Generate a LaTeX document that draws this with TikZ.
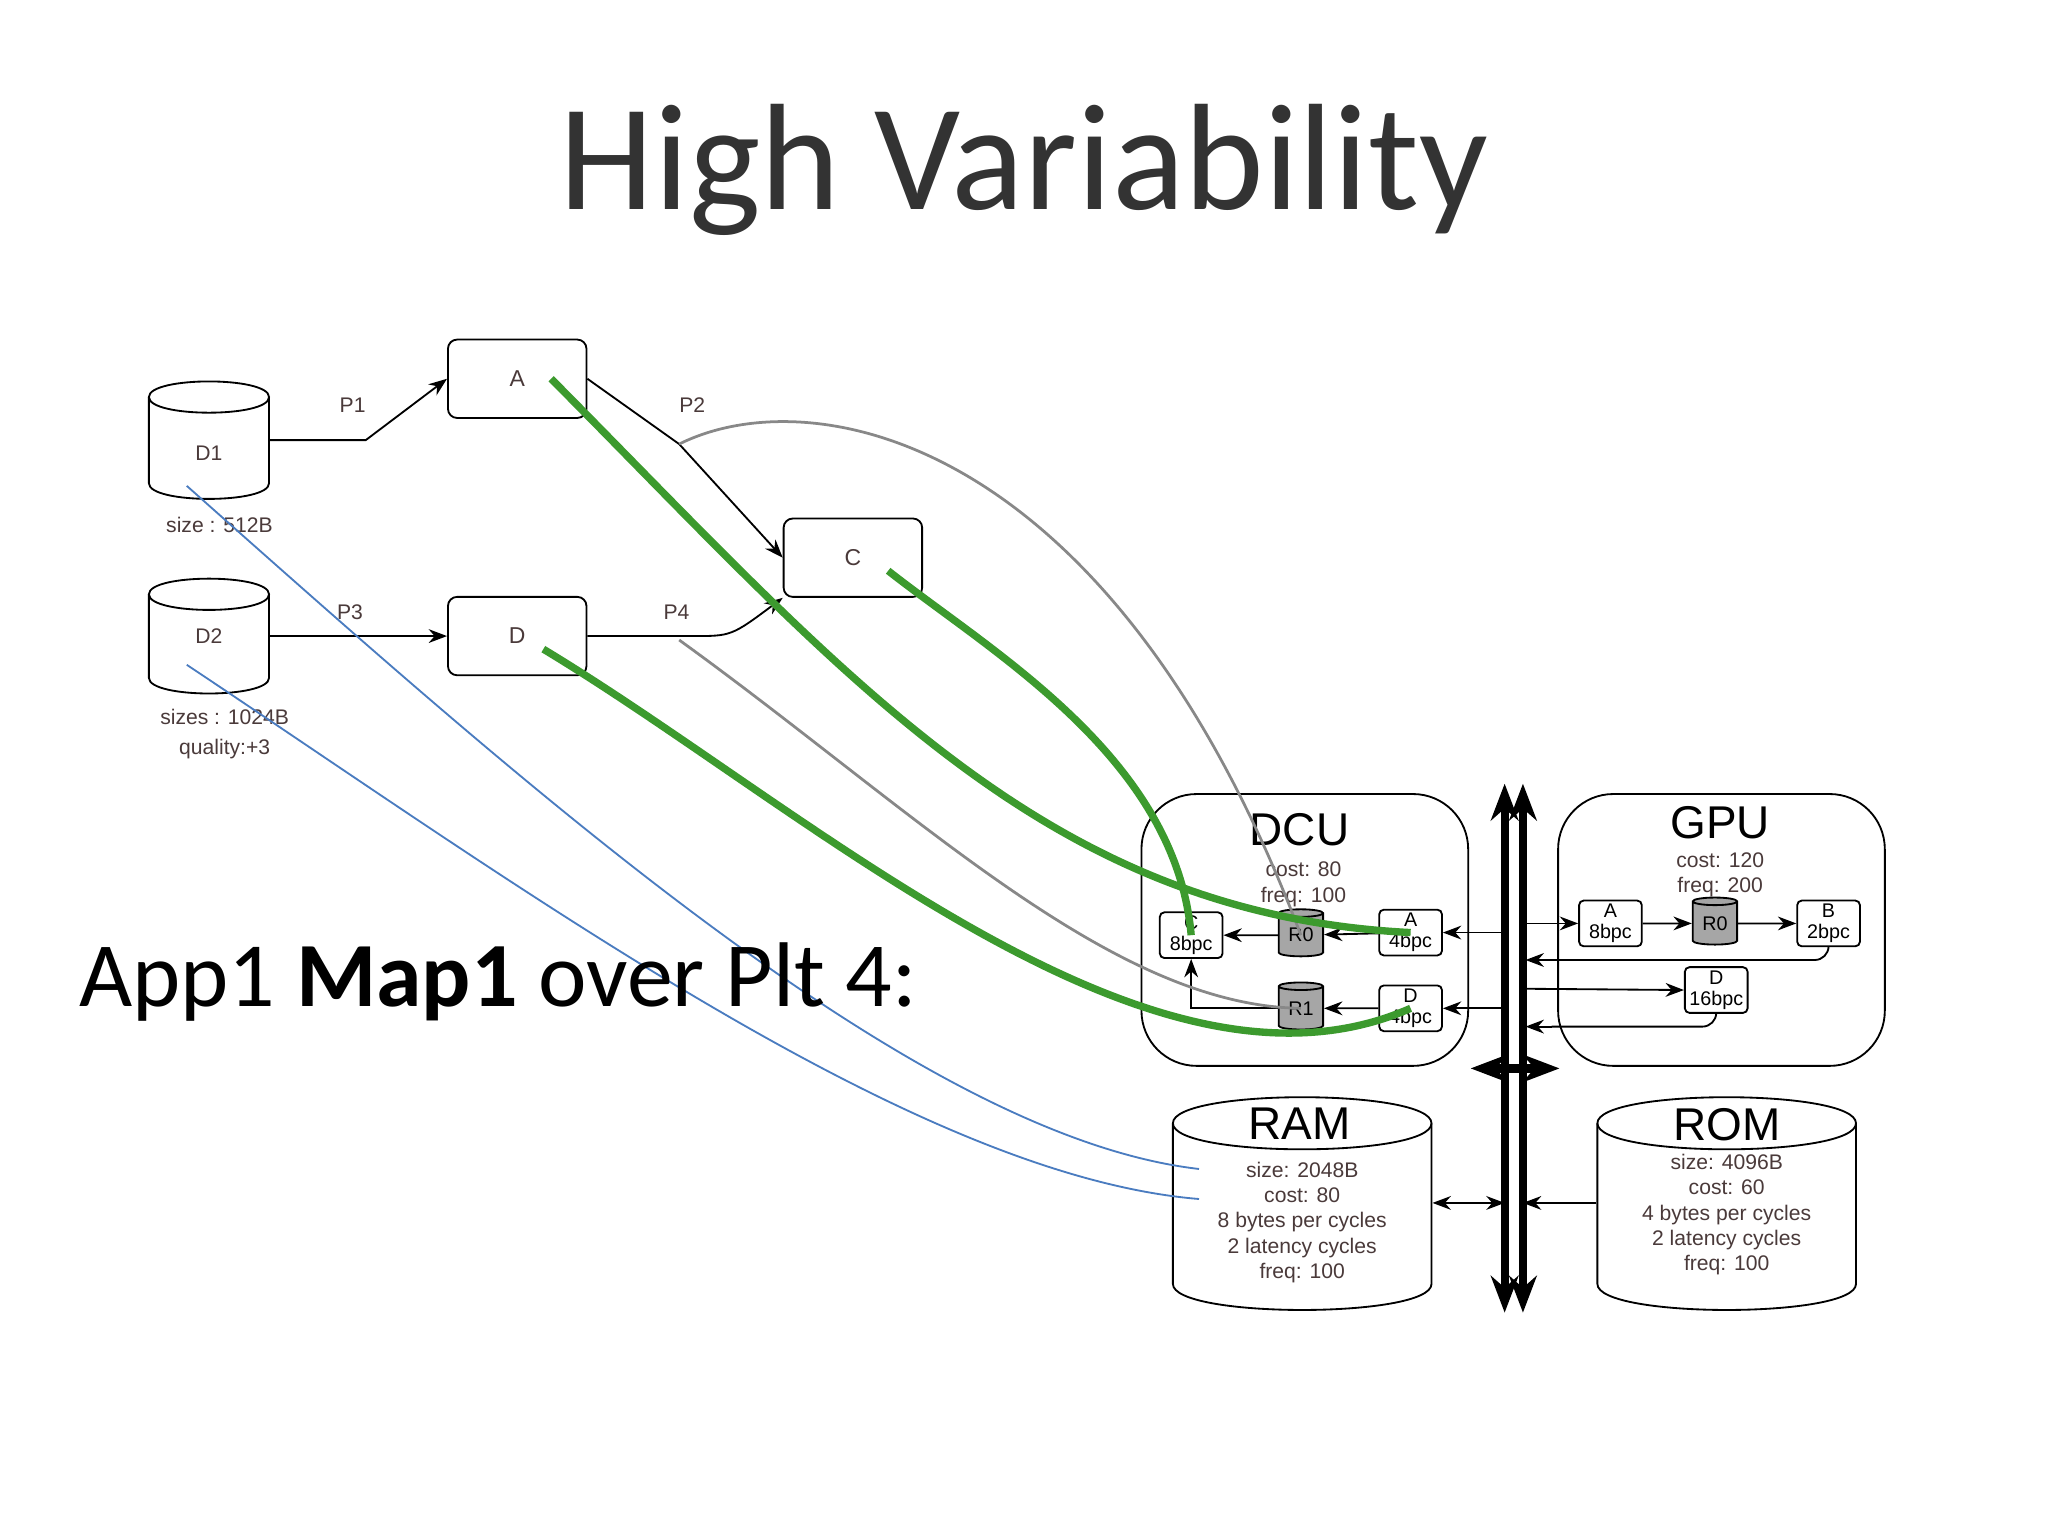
\documentclass[tikz,border=0pt]{standalone}
\usepackage{fontspec}
\setmainfont{Carlito}
\newfontfamily\arial{Liberation Sans}
\usetikzlibrary{shapes.geometric,arrows.meta}
\definecolor{txt}{HTML}{333333}
\definecolor{lbl}{HTML}{4A3A3A}
\definecolor{grn}{HTML}{3C9A2E}
\definecolor{blu}{HTML}{4A7CC0}
\definecolor{gry}{HTML}{888888}
% cylinder outline: centre x, top y, bottom y, half width, ellipse half height (picture units)
\newcommand\cylout[5]{%
  \draw ({#1-#4},{#2+#5}) -- ({#1-#4},{#3-#5})
    .. controls ({#1-#4},{#3+0.33*#5}) and ({#1+#4},{#3+0.33*#5}) .. ({#1+#4},{#3-#5})
    -- ({#1+#4},{#2+#5});
  \draw ({#1-#4},{#2+#5}) .. controls ({#1-#4},{#2-0.33*#5}) and ({#1+#4},{#2-0.33*#5}) .. ({#1+#4},{#2+#5})
    .. controls ({#1+#4},{#2+2.33*#5}) and ({#1-#4},{#2+2.33*#5}) .. cycle;}
\begin{document}
\begin{tikzpicture}[x=0.01cm,y=-0.01cm,
  box/.style={draw,rounded corners=2pt,minimum width=1.06cm,minimum height=0.6cm,font=\arial\fontsize{5}{6}\selectfont,text=lbl},
  sbox/.style={draw,rounded corners=1pt,fill=white,minimum width=0.48cm,minimum height=0.35cm,inner sep=0pt,align=center,font=\arial\fontsize{4.3}{4.6}\selectfont},
  cyl/.style={draw,cylinder,shape border rotate=90,aspect=0.3,inner sep=0pt},
  reg/.style={cyl,fill=gray!70,minimum width=0.34cm,minimum height=0.36cm,font=\arial\fontsize{4.3}{5}\selectfont},
  small/.style={font=\arial\fontsize{4.6}{5.6}\selectfont,text=lbl,align=center},
  tight/.style={font=\arial\fontsize{4.6}{5.5}\selectfont,text=lbl,align=center},
  arr/.style={-{Stealth[length=4pt]},thin},
  bigcap/.style={font=\arial\fontsize{10}{10}\selectfont},
  green/.style={grn,line width=1.6pt},
  blue/.style={blu,thin},
  grey/.style={gry,semithick}]
\useasboundingbox[fill=white] (0,0) rectangle (1568,1176);
\node[text=txt,font=\fontsize{33}{33}\selectfont] (title) at (784,130) {High Variability};

% application graph
\node[minimum width=0.92cm,minimum height=0.9cm,inner sep=0pt] (d1) at (160,337) {};
\cylout{160}{292}{382}{46}{12}
\node[small] (d1l) at (160,347) {D1};
\node[small] (d1s) at (168,402) {size : 512B};
\node[minimum width=0.92cm,minimum height=0.88cm,inner sep=0pt] (d2) at (160,487) {};
\cylout{160}{443}{531}{46}{12}
\node[small] (d2l) at (160,487) {D2};
\node[small] (d2s) at (172,562) {sizes : 1024B\\[1pt]quality:+3};
\node[box] (a) at (396,290) {A};
\node[box] (c) at (653,427) {C};
\node[box] (d) at (396,487) {D};
\coordinate (p1) at (280,337);
\coordinate (p2) at (520,340);
\coordinate (p4) at (530,487);
\draw[arr] (d1.east |- p1) -- (p1) -- (a.west);
\draw[arr] (a.east) -- (p2) -- (c.west);
\draw[arr] (d2.east) -- (d.west);
\draw[arr] (d.east) -- (p4) .. controls (560,487) .. (c.south west);
\node[small] (lp1) at (270,310) {P1};
\node[small] (lp2) at (530,310) {P2};
\node[small] (lp3) at (268,469) {P3};
\node[small] (lp4) at (518,469) {P4};

% platform
\node[draw,rounded corners=12pt,minimum width=2.5cm,minimum height=2.08cm] (dcu) at (999,712) {};
\node[bigcap] (dcut) at (995,635) {DCU};
\node[tight] (dcuc) at (998,677) {cost: 80\\freq: 100};
\node[sbox] (dc) at (912,716) {C\\8bpc};
\node[reg] (dr0) at (996,716) {R0};
\node[sbox] (da) at (1080,714) {A\\4bpc};
\node[reg] (dr1) at (996,772) {R1};
\node[sbox] (dd) at (1080,772) {D\\4bpc};
\draw[arr] (da) -- (dr0);
\draw[arr] (dr0) -- (dc);
\draw[arr] (dd) -- (dr1);
\draw[arr] (dr1.west) -| (dc.south);

\node[draw,rounded corners=12pt,minimum width=2.5cm,minimum height=2.08cm] (gpu) at (1318,712) {};
\node[bigcap] (gput) at (1317,630) {GPU};
\node[tight] (gpuc) at (1317,670) {cost: 120\\freq: 200};
\node[sbox] (ga) at (1233,707) {A\\8bpc};
\node[reg] (gr0) at (1313,707) {R0};
\node[sbox] (gb) at (1400,707) {B\\2bpc};
\node[sbox] (gd) at (1314,758) {D\\16bpc};
\draw[arr] (ga) -- (gr0);
\draw[arr] (gr0) -- (gb);

% bus
\coordinate (b1t) at (1152,600); \coordinate (b1b) at (1152,1005);
\coordinate (b2t) at (1166,600); \coordinate (b2b) at (1166,1005);
\coordinate (bl) at (1126,818); \coordinate (br) at (1194,818);
\draw[line width=1.8pt,{Stealth[length=8pt]}-{Stealth[length=8pt]}] (b1t) -- (b1b);
\draw[line width=1.8pt,{Stealth[length=8pt]}-{Stealth[length=8pt]}] (b2t) -- (b2b);
\draw[line width=1.8pt,{Stealth[length=8pt]}-{Stealth[length=8pt]}] (bl) -- (br);
\draw[arr] (1152,714) -- (da.east);
\draw[arr] (1152,772) -- (dd.east);
\draw[arr] (1166,707) -- (ga.west);
\draw[arr] (1166,757) -- (gd.west);
\coordinate (gbd) at (1188,735);
\coordinate (gdd) at (1188,786);
\draw[thin,rounded corners=3pt] (gb.south) |- (gbd);
\draw[arr,densely dashed] (gbd) -- (1168,735);
\draw[thin,rounded corners=3pt] (gd.south) |- (gdd);
\draw[arr,densely dashed] (gdd) -- (1168,786);

\node[minimum width=1.98cm,minimum height=1.64cm,inner sep=0pt] (ram) at (997,921) {};
\cylout{997}{840}{1003}{99}{20}
\node[bigcap] (ramt) at (995,860) {RAM};
\node[tight] (rams) at (997,936) {size: 2048B\\cost: 80\\8 bytes per cycles\\2 latency cycles\\freq: 100};
\node[minimum width=1.98cm,minimum height=1.64cm,inner sep=0pt] (rom) at (1322,921) {};
\cylout{1322}{840}{1003}{99}{20}
\node[bigcap] (romt) at (1322,861) {ROM};
\node[tight] (roms) at (1322,930) {size: 4096B\\cost: 60\\4 bytes per cycles\\2 latency cycles\\freq: 100};
\draw[arr,{Stealth[length=4pt]}-{Stealth[length=4pt]}] (ram.east) -- (1152,921);
\draw[arr] (rom.west) -- (1166,921);

% mapping
\draw[grey] (p2) .. controls (620,290) and (850,330) .. (dr0.center);
\draw[grey] (520,490) .. controls (700,620) and (850,770) .. (dr1.center);
\draw[green] (422,290) .. controls (650,520) and (800,700) .. (da.center);
\draw[green] (680,437) .. controls (760,500) and (900,580) .. (dc.center);
\draw[green] (416,497) .. controls (620,620) and (880,860) .. (dd.center);
\draw[blue] (143,372) .. controls (400,600) and (700,870) .. (918,895);
\draw[blue] (143,509) .. controls (400,680) and (700,900) .. (918,918);

\node[anchor=west,inner sep=0pt,font=\fontsize{20}{20}\selectfont] (app) at (60,752) {App1 \textbf{Map1} over Plt 4:};
\end{tikzpicture}
\end{document}
